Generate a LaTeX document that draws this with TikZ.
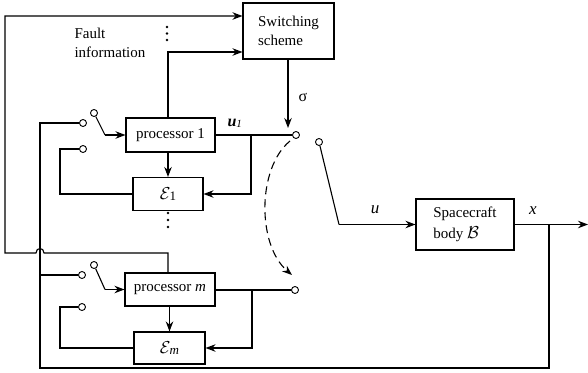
\documentclass[tikz,border=0pt]{standalone}
\usepackage{fontspec}
\setmainfont{Liberation Serif}
\usepackage{amsmath}
\usetikzlibrary{arrows.meta}
\begin{document}
\begin{tikzpicture}[x=1pt,y=-1pt, line width=1.1pt,
  >={Stealth[length=10pt,width=7.5pt]},
  box/.style={draw, rectangle, inner sep=0pt, font=\fontsize{15}{19}\selectfont},
  term/.style={draw, circle, inner sep=0pt, minimum size=7pt, fill=white, line width=0.9pt},
  lbl/.style={inner sep=0pt, font=\fontsize{15}{19}\selectfont},
  dot/.style={fill, circle, inner sep=0pt, minimum size=2.8pt}]
\useasboundingbox (0,0) rectangle (588,372);

% boxes
\node[box, minimum width=91pt, minimum height=56pt, align=left] (sw) at (288.5,31) {Switching\\scheme};
\node[box, minimum width=89pt, minimum height=34pt] (p1) at (170.5,135) {processor 1};
\node[box, minimum width=70pt, minimum height=33pt, font=\fontsize{17}{17}\selectfont] (e1) at (168,194) {$\mathcal{E}$\kern-1pt\raisebox{-1pt}{\fontsize{13}{13}\selectfont 1}};
\node[box, minimum width=90pt, minimum height=33pt] (pm) at (170,289.5) {processor \textit{m}};
\node[box, minimum width=71pt, minimum height=32pt, font=\fontsize{17}{17}\selectfont] (em) at (169.5,348) {$\mathcal{E}$\kern-1pt\raisebox{-1pt}{\fontsize{13}{13}\selectfont\textit{m}}};
\node[box, minimum width=98pt, minimum height=51pt, align=left, font=\fontsize{15}{21}\selectfont] (sc) at (465,224.5) {Spacecraft\\body {\fontsize{17}{17}\selectfont$\mathcal{B}$}};

% terminals
\node[term] (t1) at (296,135) {};
\node[term] (tc) at (319,142) {};
\node[term] (tm) at (295,290) {};
\node[term] (sa1) at (83,123) {};
\node[term] (sb1) at (94,113) {};
\node[term] (sf1) at (83,149) {};
\node[term] (sam) at (82,275) {};
\node[term] (sbm) at (94,265) {};
\node[term] (sfm) at (82,307) {};

% coordinates
\coordinate (fm) at (168,253);
\coordinate (fl) at (5,253);
\coordinate (ft) at (5,16);
\coordinate (f1) at (168,52);
\coordinate (vt) at (40,123);
\coordinate (vm) at (40,275);
\coordinate (vb) at (40,368);
\coordinate (xr) at (549,368);
\coordinate (xo) at (549,224.5);
\coordinate (b1) at (251,135);
\coordinate (bm) at (252,290);
\coordinate (k1) at (105,135);
\coordinate (km) at (105,289.5);
\coordinate (fb1) at (60,149);
\coordinate (fbm) at (60,307);
\coordinate (k2) at (339,224.5);
\coordinate (out) at (588,224.5);
\coordinate (sg) at (288,128);
\coordinate (da) at (290,141);
\coordinate (db) at (292,275);

% labels
\node[lbl, anchor=west, align=left] (fi) at (74,42.5) {Fault\\information};
\node[lbl, font=\fontsize{16}{16}\selectfont] (sig) at (303,97) {σ};
\node[lbl, anchor=west, font=\fontsize{16}{16}\selectfont] (u1) at (227,123) {\textbf{\textit{u}}\raisebox{-1pt}{\fontsize{11}{11}\selectfont\textit{1}}};
\node[lbl, font=\fontsize{17}{17}\selectfont] (ul) at (375,210) {\textit{u}};
\node[lbl, font=\fontsize{17}{17}\selectfont] (xl) at (533,211) {\textit{x}};

% dots
\node[dot] (d1) at (167,27) {};
\node[dot] (d2) at (167,33.5) {};
\node[dot] (d3) at (167,40) {};
\node[dot] (d4) at (168,213) {};
\node[dot] (d5) at (168,220) {};
\node[dot] (d6) at (168,227) {};

% fault information lines
\draw[->] (pm.north -| fm) -- (fm) -- (44,253) .. controls (44,247) and (36,247) .. (36,253) -- (fl) -- (ft) -- (ft -| sw.west);
\draw[->] (p1.north -| f1) -- (f1) -- (f1 -| sw.west);

% switching signal
\draw[->] (sw.south -| sg) -- (sg);

% processor 1
\draw (p1.east |- t1) -- (t1);
\draw[->] (b1) |- (e1.east);
\draw[->] (p1.south -| e1) -- (e1.north);
\draw (vt) -- (sa1);
\draw (sb1) -- (k1);
\draw[->] (k1) -- (p1.west);
\draw (e1.west) -| (fb1) -- (sf1);

% processor m
\draw (pm.east |- tm) -- (tm);
\draw[->] (bm) |- (em.east);
\draw[->] (pm.south -| em) -- (em.north);
\draw (vm) -- (sam);
\draw (sbm) -- (km);
\draw[->] (km) -- (pm.west);
\draw (em.west) -| (fbm) -- (sfm);

% state feedback
\draw (sa1) -- (vt) -- (vb) -- (xr) -- (xo);

% switch and plant
\draw (tc) -- (k2);
\draw[->] (k2) -- (sc.west);
\draw[->] (sc.east) -- (out);
\draw[->, dash pattern=on 8pt off 5pt] (da) .. controls (257,168) and (257,245) .. (db);
\end{tikzpicture}
\end{document}
